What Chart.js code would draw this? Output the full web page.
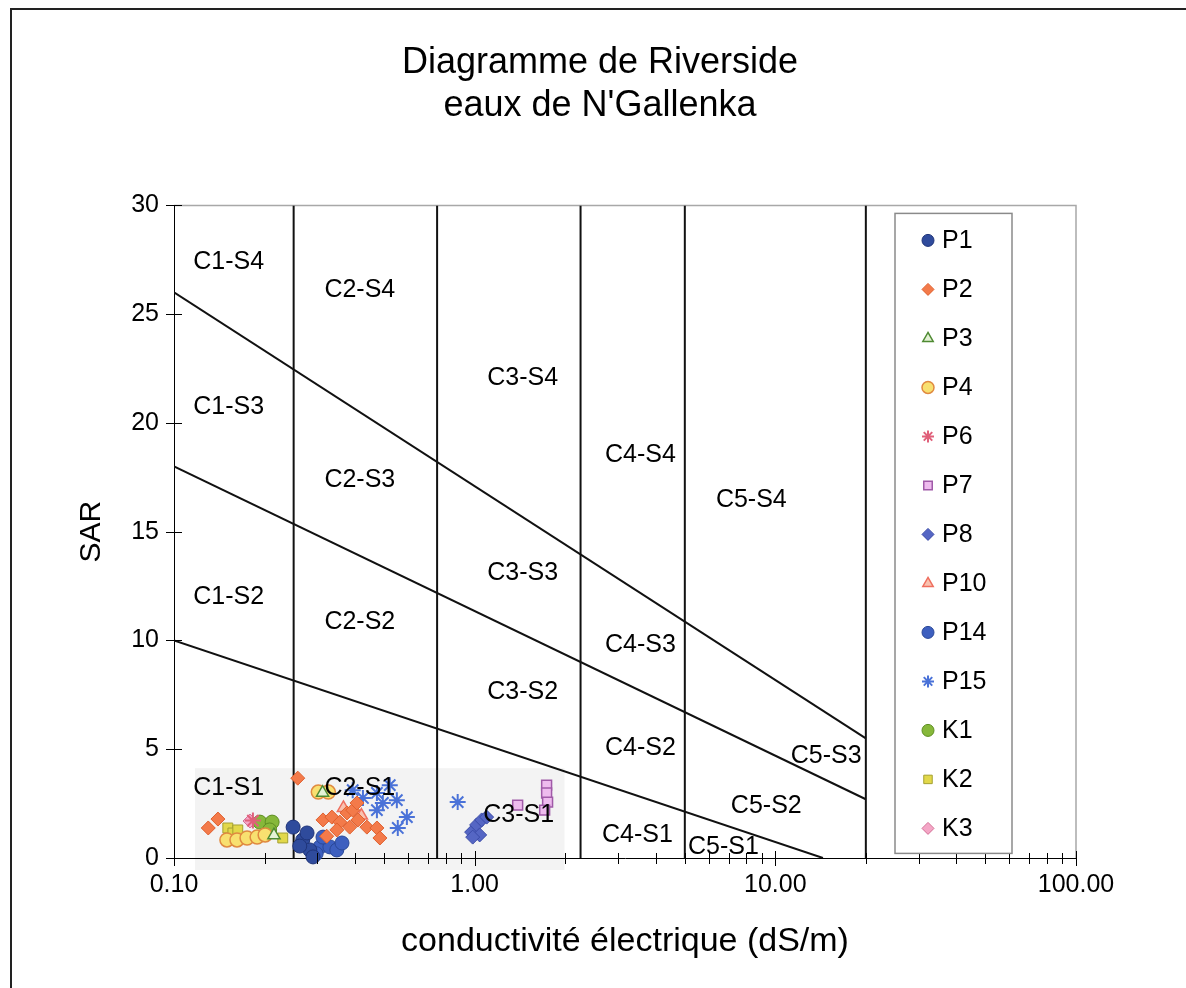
<!DOCTYPE html>
<html>
<head>
<meta charset="utf-8">
<title>Diagramme de Riverside</title>
<script src="https://cdn.jsdelivr.net/npm/chart.js@4.4.0/dist/chart.umd.min.js"></script>
<style>
  html, body { margin: 0; padding: 0; background: #fff; }
  #wrap { width: 1186px; height: 988px; }
</style>
</head>
<body>
<div id="wrap"><canvas id="riverside" width="1186" height="988"></canvas></div>
<script>
// ---- Sampling points: electrical conductivity (dS/m) and SAR ----
const seriesNames = ['P1', 'P2', 'P3', 'P4', 'P6', 'P7', 'P8', 'P10', 'P14', 'P15', 'K1', 'K2', 'K3'];

const ecP1   = [0.249, 0.268, 0.283, 0.290, 0.277, 0.262];
const sarP1  = [1.42, 0.83, 0.37, 0.05, 1.15, 0.55];
const ecP2   = [0.130, 0.140, 0.258, 0.313, 0.335, 0.356, 0.376, 0.393, 0.409, 0.384, 0.348, 0.438, 0.473, 0.484, 0.406, 0.322];
const sarP2  = [1.38, 1.79, 3.67, 1.75, 1.88, 1.65, 2.07, 2.20, 1.75, 1.42, 1.29, 1.42, 1.38, 0.92, 2.53, 1.00];
const ecP3   = [0.312, 0.215];
const sarP3  = [3.00, 1.05];
const ecP4   = [0.150, 0.162, 0.175, 0.189, 0.201, 0.302, 0.326];
const sarP4  = [0.83, 0.83, 0.92, 0.96, 1.06, 3.03, 3.03];
const ecP6   = [0.183];
const sarP6  = [1.72];
const ecP7   = [1.390, 1.735, 1.735, 1.748, 1.709];
const sarP7  = [2.43, 3.35, 2.99, 2.57, 2.20];
const ecP8   = [0.977, 1.015, 1.055, 1.096, 1.039, 0.985];
const sarP8  = [1.19, 1.52, 1.75, 1.88, 1.06, 0.96];
const ecP10  = [0.366, 0.420];
const sarP10 = [2.30, 1.95];
const ecP14  = [0.306, 0.330, 0.348, 0.362, 0.313, 0.297];
const sarP14 = [0.51, 0.51, 0.37, 0.69, 0.96, 0.20];
const ecP15  = [0.425, 0.473, 0.495, 0.522, 0.551, 0.595, 0.555, 0.473, 0.393, 0.878];
const sarP15 = [2.76, 2.99, 2.53, 3.35, 2.66, 1.88, 1.38, 2.20, 3.12, 2.57];
const ecK1   = [0.193, 0.212, 0.208];
const sarK1  = [1.65, 1.65, 1.29];
const ecK2   = [0.151, 0.157, 0.163, 0.230];
const sarK2  = [1.38, 1.15, 1.29, 0.92];
const ecK3   = [0.179];
const sarK3  = [1.70];

// ---- Riverside classification boundaries ----
const salinityLimits = [0.25, 0.75, 2.25, 5, 20];          // C1|C2|C3|C4|C5 limits (dS/m)
const sodiumStartEC  = [0.1, 0.1, 0.1];                     // S1/S2, S2/S3, S3/S4
const sodiumStartSAR = [10, 18, 26];
const sodiumEndEC    = [14.4, 20, 20];
const sodiumEndSAR   = [0, 2.7, 5.5];

// ---- Zone names and where they sit (EC, SAR) ----
const zoneNames = ['C1-S4', 'C2-S4', 'C3-S4', 'C4-S4', 'C5-S4',
                   'C1-S3', 'C2-S3', 'C3-S3', 'C4-S3', 'C5-S3',
                   'C1-S2', 'C2-S2', 'C3-S2', 'C4-S2', 'C5-S2',
                   'C1-S1', 'C2-S1', 'C3-S1', 'C4-S1', 'C5-S1'];
const zoneEC  = [0.152, 0.415, 1.444, 3.56, 8.32,
                 0.152, 0.415, 1.444, 3.56, 14.76,
                 0.152, 0.415, 1.444, 3.56, 9.33,
                 0.152, 0.415, 1.40, 3.48, 6.72];
const zoneSAR = [27.38, 26.09, 22.05, 18.51, 16.44,
                 20.72, 17.36, 13.09, 9.78, 4.69,
                 11.99, 10.84, 7.63, 5.05, 2.39,
                 3.20, 3.20, 1.98, 1.06, 0.50];

// ---- Axis ticks ----
const xTickValues = [0.1, 1, 10, 100];
const yTickValues = [0, 5, 10, 15, 20, 25, 30];

const FONT = "'Liberation Sans', Arial, Helvetica, sans-serif";
Chart.defaults.font.family = FONT;
Chart.defaults.color = '#000';

const seriesData = {
  P1: [ecP1, sarP1], P2: [ecP2, sarP2], P3: [ecP3, sarP3], P4: [ecP4, sarP4],
  P6: [ecP6, sarP6], P7: [ecP7, sarP7], P8: [ecP8, sarP8], P10: [ecP10, sarP10],
  P14: [ecP14, sarP14], P15: [ecP15, sarP15], K1: [ecK1, sarK1], K2: [ecK2, sarK2], K3: [ecK3, sarK3]
};

const seriesStyle = {
  P1:  { pointStyle: 'circle',   bg: '#2f4b9c', border: '#1f3479', bw: 1 },
  P2:  { pointStyle: 'rectRot',  bg: '#f37a4a', border: '#e0602e', bw: 1 },
  P3:  { pointStyle: 'triangle', bg: '#e4f2d6', border: '#4e8a32', bw: 1.5 },
  P4:  { pointStyle: 'circle',   bg: '#f8e070', border: '#e08a40', bw: 1.5 },
  P6:  { pointStyle: 'star',     bg: '#e0607a', border: '#e0607a', bw: 2 },
  P7:  { pointStyle: 'rect',     bg: '#eebbee', border: '#a05aa8', bw: 1.5 },
  P8:  { pointStyle: 'rectRot',  bg: '#5566c4', border: '#3a4aa8', bw: 1 },
  P10: { pointStyle: 'triangle', bg: '#f9c2b0', border: '#ef6e5e', bw: 1.5 },
  P14: { pointStyle: 'circle',   bg: '#3d5fbf', border: '#2a4898', bw: 1 },
  P15: { pointStyle: 'star',     bg: '#4a72d8', border: '#4a72d8', bw: 2 },
  K1:  { pointStyle: 'circle',   bg: '#86b83a', border: '#5e8e22', bw: 1 },
  K2:  { pointStyle: 'rect',     bg: '#e2d84a', border: '#a4a030', bw: 1 },
  K3:  { pointStyle: 'rectRot',  bg: '#f4a6c6', border: '#d47096', bw: 1 }
};

const seriesDatasets = seriesNames.map(name => {
  const [ec, sar] = seriesData[name];
  const st = seriesStyle[name];
  return {
    label: name,
    isSeries: true,
    data: ec.map((v, i) => ({ x: v, y: sar[i] })),
    pointStyle: st.pointStyle,
    pointRadius: st.pointStyle === 'star' ? 8 : 7,
    pointBackgroundColor: st.bg,
    pointBorderColor: st.border,
    pointBorderWidth: st.bw,
    showLine: false,
    clip: false
  };
});

const lineStyle = { borderColor: '#111', borderWidth: 2, pointRadius: 0, showLine: true, fill: false, tension: 0 };

const salinityDatasets = salinityLimits.map(ec => Object.assign({
  label: 'limit ' + ec,
  data: [{ x: ec, y: 0 }, { x: ec, y: 30 }]
}, lineStyle));

const sodiumDatasets = sodiumStartSAR.map((s, i) => Object.assign({
  label: 'sodium ' + i,
  data: [{ x: sodiumStartEC[i], y: s }, { x: sodiumEndEC[i], y: sodiumEndSAR[i] }]
}, lineStyle));

// Background: page frame, plot frame, light shading under the low-SAR samples
const framePlugin = {
  id: 'frame',
  beforeDraw(chart) {
    const { ctx, width, height, scales: { x, y } } = chart;
    ctx.save();
    ctx.fillStyle = '#fff';
    ctx.fillRect(0, 0, width, height);
    // outer frame
    ctx.strokeStyle = '#222';
    ctx.lineWidth = 2;
    ctx.beginPath();
    ctx.moveTo(11, height);
    ctx.lineTo(11, 9);
    ctx.lineTo(width, 9);
    ctx.stroke();
    // soft shading behind the sample cloud
    const x0 = x.getPixelForValue(0.1174), x1 = x.getPixelForValue(1.99);
    const y0 = y.getPixelForValue(4.13), y1 = y.getPixelForValue(-0.55);
    ctx.fillStyle = '#f3f3f3';
    ctx.fillRect(x0, y0, x1 - x0, y1 - y0);
    // plot area top/right edges
    const a = chart.chartArea;
    ctx.strokeStyle = '#a8a8a8';
    ctx.lineWidth = 1.5;
    ctx.beginPath();
    ctx.moveTo(a.left, a.top);
    ctx.lineTo(a.right, a.top);
    ctx.lineTo(a.right, a.bottom);
    ctx.stroke();
    ctx.restore();
  }
};

// Tick marks crossing both axes, major and log-minor
const tickPlugin = {
  id: 'crossTicks',
  afterDatasetsDraw(chart) {
    const { ctx, scales: { x, y } } = chart;
    const a = chart.chartArea;
    ctx.save();
    ctx.strokeStyle = '#000';
    ctx.lineWidth = 1;
    ctx.beginPath();
    yTickValues.forEach(v => {
      const py = Math.round(y.getPixelForValue(v)) + 0.5;
      ctx.moveTo(a.left - 8, py); ctx.lineTo(a.left + 8, py);
    });
    xTickValues.forEach(v => {
      const px = Math.round(x.getPixelForValue(v)) + 0.5;
      ctx.moveTo(px, a.bottom - 7); ctx.lineTo(px, a.bottom + 8);
    });
    [0.1, 1, 10].forEach(d => {
      for (let k = 2; k <= 9; k++) {
        const px = Math.round(x.getPixelForValue(k * d)) + 0.5;
        ctx.moveTo(px, a.bottom - 5); ctx.lineTo(px, a.bottom + 6);
      }
    });
    ctx.stroke();
    ctx.restore();
  }
};

// Zone names
const zonePlugin = {
  id: 'zones',
  afterDatasetsDraw(chart) {
    const { ctx, scales: { x, y } } = chart;
    ctx.save();
    ctx.font = '25px ' + FONT;
    ctx.fillStyle = '#000';
    ctx.textAlign = 'center';
    ctx.textBaseline = 'middle';
    zoneNames.forEach((n, i) => {
      ctx.fillText(n, x.getPixelForValue(zoneEC[i]), y.getPixelForValue(zoneSAR[i]));
    });
    ctx.restore();
  }
};

function drawMarker(ctx, st, r, px, py) {
  ctx.fillStyle = st.bg;
  ctx.strokeStyle = st.border;
  ctx.lineWidth = st.bw;
  if (Chart.helpers && Chart.helpers.drawPoint) {
    Chart.helpers.drawPoint(ctx, { pointStyle: st.pointStyle, rotation: 0, radius: r, borderWidth: st.bw }, px, py);
    return;
  }
  ctx.beginPath();
  ctx.arc(px, py, r, 0, Math.PI * 2);
  ctx.fill();
  ctx.stroke();
}

// Legend box inside the plot, on the right
const legendPlugin = {
  id: 'boxLegend',
  afterDraw(chart) {
    const { ctx } = chart;
    const a = chart.chartArea;
    const left = a.left + 721, top = a.top + 8, w = 117, h = 640;
    ctx.save();
    ctx.fillStyle = '#fff';
    ctx.fillRect(left, top, w, h);
    ctx.strokeStyle = '#8a8a8a';
    ctx.lineWidth = 1.5;
    ctx.strokeRect(left, top, w, h);
    ctx.font = '25px ' + FONT;
    ctx.textAlign = 'left';
    ctx.textBaseline = 'middle';
    chart.data.datasets.filter(d => d.isSeries).forEach((d, i) => {
      const py = top + 27 + i * 49;
      drawMarker(ctx, seriesStyle[d.label], 6, left + 33, py);
      ctx.fillStyle = '#000';
      ctx.fillText(d.label, left + 47, py + 1);
    });
    ctx.restore();
  }
};

new Chart(document.getElementById('riverside'), {
  type: 'scatter',
  data: { datasets: [...seriesDatasets, ...salinityDatasets, ...sodiumDatasets] },
  options: {
    responsive: false,
    animation: false,
    events: [],
    layout: { padding: { left: 62, right: 48, top: 0, bottom: 0 } },
    plugins: {
      legend: { display: false },
      tooltip: { enabled: false },
      title: {
        display: true,
        text: ['Diagramme de Riverside', "eaux de N'Gallenka"],
        color: '#000',
        font: { size: 36, weight: 'normal', lineHeight: 1.2 },
        padding: { top: 41, bottom: 78 }
      }
    },
    scales: {
      x: {
        type: 'logarithmic',
        position: 'bottom',
        min: 0.1,
        max: 100,
        afterBuildTicks: s => { s.ticks = xTickValues.map(v => ({ value: v, major: true })); },
        ticks: {
          callback: v => Number(v).toFixed(2),
          font: { size: 25 },
          color: '#000',
          padding: 12,
          maxRotation: 0,
          autoSkip: false
        },
        grid: { display: false, drawTicks: false },
        border: { display: true, color: '#000', width: 1 },
        title: {
          display: true,
          text: 'conductivité électrique (dS/m)',
          color: '#000',
          font: { size: 34 },
          padding: { top: 0, bottom: 26 }
        },
        afterFit: s => { s.height = 130; }
      },
      y: {
        min: 0,
        max: 30,
        afterBuildTicks: s => { s.ticks = yTickValues.map(v => ({ value: v })); },
        ticks: { font: { size: 25 }, color: '#000', padding: 15 },
        grid: { display: false, drawTicks: false },
        border: { display: true, color: '#000', width: 1 },
        title: {
          display: true,
          text: 'SAR',
          color: '#000',
          font: { size: 30 },
          padding: { top: 12, bottom: 0 }
        },
        afterFit: s => { s.width = 112; }
      },
      y2: {
        position: 'right',
        min: 0,
        max: 30,
        ticks: { display: false },
        grid: { display: false, drawTicks: false },
        border: { display: false },
        afterFit: s => { s.width = 62; }
      }
    }
  },
  plugins: [framePlugin, tickPlugin, zonePlugin, legendPlugin]
});
</script>
</body>
</html>
